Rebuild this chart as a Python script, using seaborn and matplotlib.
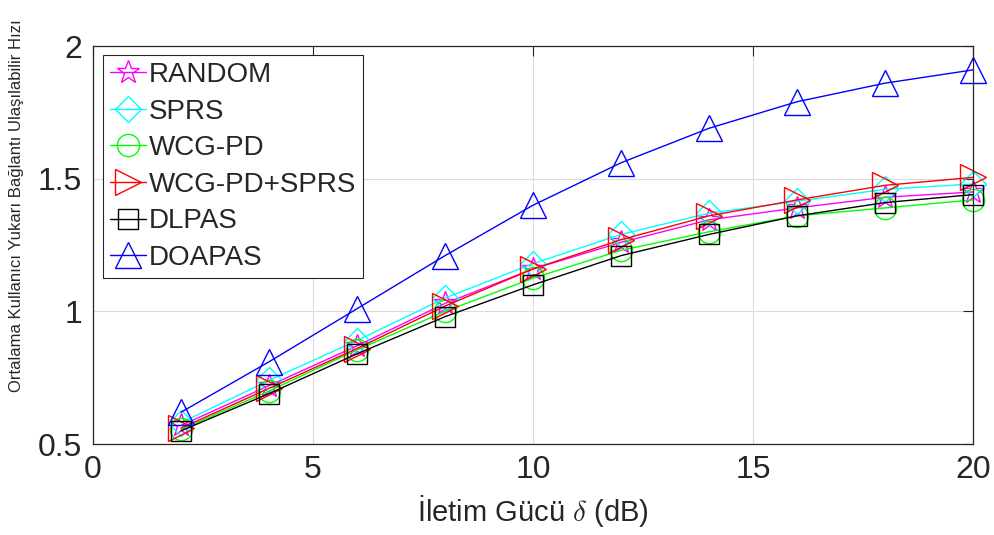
import numpy as np
import pandas as pd
import matplotlib
matplotlib.use("Agg")
import matplotlib.pyplot as plt
import seaborn as sns

# values
power_db = [2, 4, 6, 8, 10, 12, 14, 16, 18, 20]
random_rate = [0.57, 0.72, 0.87, 1.03, 1.16, 1.26, 1.345, 1.39, 1.43, 1.45]
sprs_rate = [0.58, 0.74, 0.89, 1.05, 1.18, 1.29, 1.37, 1.415, 1.46, 1.48]
wcgpd_rate = [0.555, 0.70, 0.855, 1.00, 1.125, 1.23, 1.30, 1.36, 1.39, 1.42]
wcgpd_sprs_rate = [0.56, 0.71, 0.86, 1.02, 1.16, 1.27, 1.36, 1.42, 1.475, 1.505]
dlpas_rate = [0.55, 0.69, 0.84, 0.98, 1.10, 1.21, 1.29, 1.36, 1.41, 1.44]
doapas_rate = [0.62, 0.81, 1.01, 1.21, 1.40, 1.56, 1.69, 1.79, 1.86, 1.91]

series_names = ['RANDOM', 'SPRS', 'WCG-PD', 'WCG-PD+SPRS', 'DLPAS', 'DOAPAS']
series_values = [random_rate, sprs_rate, wcgpd_rate, wcgpd_sprs_rate, dlpas_rate, doapas_rate]
colors = ['#ff00ff', '#00ffff', '#00ff00', '#ff0000', '#000000', '#0000ff']
markers = ['*', 'D', 'o', '>', 's', '^']
marker_sizes = [17, 13, 16, 19, 14, 19]

sns.set_style('white')
plt.rcParams['font.family'] = ['Liberation Sans', 'DejaVu Sans']
plt.rcParams['mathtext.fontset'] = 'cm'

fig = plt.figure(figsize=(9.94, 5.35), dpi=100)
ax = fig.add_axes([0.0936, 0.170, 0.8853, 0.744])

for name, vals, c, m, ms in zip(series_names, series_values, colors, markers, marker_sizes):
    df = pd.DataFrame({'x': power_db, 'y': vals})
    sns.lineplot(data=df, x='x', y='y', ax=ax, color=c, marker=m, markersize=ms,
                 markerfacecolor='none', markeredgecolor=c, markeredgewidth=1.0,
                 linewidth=1.0, label=name, clip_on=False)

ax.set_xlim(0, 20)
ax.set_ylim(0.5, 2)
ax.set_xticks([0, 5, 10, 15, 20])
ax.set_yticks([0.5, 1, 1.5, 2])
ax.set_yticklabels(['0.5', '1', '1.5', '2'])
ax.grid(True, color='#dcdcdc', linewidth=0.8)
ax.tick_params(direction='in', length=7, width=0.8, top=True, right=True,
               labelsize=23, colors='#262626', pad=8)
for sp in ax.spines.values():
    sp.set_color('#262626')
    sp.set_linewidth(0.9)

ax.set_xlabel(r'İletim Gücü $\delta$ (dB)', fontsize=21, color='#262626', labelpad=6)
ax.set_ylabel('Ortalama Kullanıcı Yukarı Bağlantı Ulaşılabilir Hızı', fontsize=12,
              color='#262626')
ax.yaxis.set_label_coords(-0.078, 0.60)

leg = ax.legend(loc='upper left', bbox_to_anchor=(0.011, 0.977), fontsize=20,
                frameon=True, fancybox=False, edgecolor='#262626', framealpha=1,
                handlelength=1.3, handletextpad=0.1, borderpad=0.25, labelspacing=0.38,
                borderaxespad=0)
leg.get_frame().set_linewidth(0.8)

fig.savefig('out.png', dpi=100)
